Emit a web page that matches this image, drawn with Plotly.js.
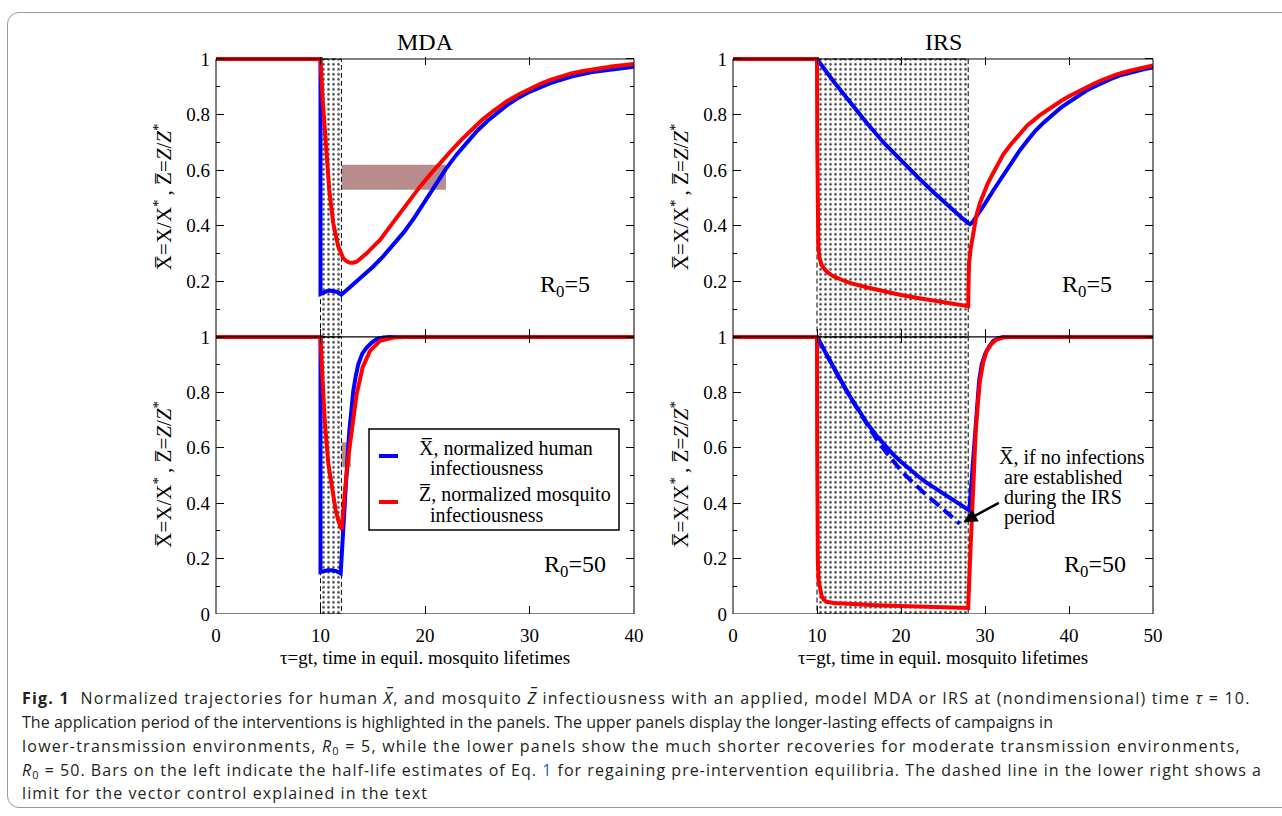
<!DOCTYPE html>
<html><head><meta charset="utf-8">
<script src="https://cdn.plot.ly/plotly-3.0.1.min.js"></script>
<style>
body{margin:0;background:#fff;}
#wrap{position:relative;width:1282px;height:816px;overflow:hidden;background:#fff;}
#chart{position:absolute;left:0;top:0;width:1282px;height:816px;}
#frame{position:absolute;left:7px;top:12px;width:1320px;height:796px;border:1px solid #9a9a9a;border-radius:12px;pointer-events:none;box-sizing:border-box;}
.cap{position:absolute;left:22px;white-space:nowrap;font-family:'Open Sans','Noto Sans',sans-serif;font-size:16px;line-height:24px;color:#231f20;}
.cap sub{font-size:11px;vertical-align:-3px;line-height:0;}
</style></head>
<body>
<div id="wrap">
<div id="chart"></div>
<div id="frame"></div>
<div class="cap" style="top:686px"><b>Fig. 1</b>&nbsp; Normalized trajectories for human <i>X&#773;</i>, and mosquito <i>Z&#773;</i> infectiousness with an applied, model MDA or IRS at (nondimensional) time <i>τ</i> = 10.</div>
<div class="cap" style="top:710px">The application period of the interventions is highlighted in the panels. The upper panels display the longer-lasting effects of campaigns in</div>
<div class="cap" style="top:734px">lower-transmission environments, <i>R</i><sub>0</sub> = 5, while the lower panels show the much shorter recoveries for moderate transmission environments,</div>
<div class="cap" style="top:758px"><i>R</i><sub>0</sub> = 50. Bars on the left indicate the half-life estimates of Eq. <span style="color:#1f5fbf">1</span> for regaining pre-intervention equilibria. The dashed line in the lower right shows a</div>
<div class="cap" style="top:781px">limit for the vector control explained in the text</div>
</div>
<script>
// ---------------- DATA ----------------
const panelTitles = ['MDA', 'IRS'];
const mdaPeriod = [10, 12];
const irsPeriod = [10, 28];
const barMdaR5 = [12, 22, 0.53, 0.62];    // half-life bar: t0, t1, y0, y1
const barMdaR50 = [12, 12.9, 0.53, 0.62];

// MDA, R0 = 5
const mdaR5_t_X = [0, 10, 10, 10.3, 10.6, 10.9, 11.2, 11.5, 11.8, 12, 13, 14, 15, 16, 17, 18, 19, 20, 21, 22, 23, 24, 25, 26, 27, 28, 29, 30, 32, 34, 36, 38, 40];
const mdaR5_X   = [1, 1, 0.155, 0.161, 0.165, 0.167, 0.166, 0.163, 0.158, 0.152, 0.185, 0.218, 0.252, 0.29, 0.332, 0.378, 0.43, 0.49, 0.55, 0.605, 0.655, 0.7, 0.742, 0.778, 0.81, 0.838, 0.862, 0.882, 0.913, 0.937, 0.953, 0.964, 0.972];
const mdaR5_t_Z = [0, 10, 10.21, 10.53, 10.84, 11.22, 11.7, 12.18, 12.5, 12.82, 13.1, 13.46, 13.9, 14.42, 15, 15.7, 16.65, 17.5, 18.5, 19.5, 20.5, 21.5, 22.5, 23.5, 24.6, 25.5, 26.5, 27.8, 29, 30, 31, 32, 33, 34, 35, 36, 38, 40];
const mdaR5_Z   = [1, 1, 0.853, 0.673, 0.529, 0.409, 0.325, 0.283, 0.272, 0.267, 0.267, 0.271, 0.284, 0.301, 0.323, 0.349, 0.397, 0.44, 0.49, 0.54, 0.585, 0.63, 0.67, 0.71, 0.752, 0.782, 0.812, 0.847, 0.873, 0.893, 0.91, 0.925, 0.937, 0.948, 0.956, 0.963, 0.974, 0.982];

// MDA, R0 = 50
const mdaR50_t_X = [0, 10, 10, 10.3, 10.7, 11.1, 11.5, 11.93, 12.05, 12.12, 12.28, 12.44, 12.6, 12.76, 12.95, 13.14, 13.38, 13.62, 14, 14.42, 14.9, 15.38, 16, 16.6, 40];
const mdaR50_X   = [1, 1, 0.152, 0.156, 0.158, 0.158, 0.155, 0.146, 0.23, 0.302, 0.4, 0.482, 0.575, 0.662, 0.74, 0.806, 0.86, 0.902, 0.94, 0.962, 0.98, 0.992, 0.998, 1, 1];
const mdaR50_t_Z = [0, 10, 10.2, 10.43, 10.75, 11.22, 11.45, 11.7, 11.9, 12.03, 12.34, 12.66, 13.08, 13.46, 14.03, 14.74, 15.7, 16.97, 18, 40];
const mdaR50_Z   = [1, 1, 0.842, 0.686, 0.542, 0.422, 0.375, 0.338, 0.315, 0.305, 0.446, 0.566, 0.686, 0.794, 0.89, 0.95, 0.986, 0.998, 1, 1];

// IRS, R0 = 5
const irsR5_t_X = [0, 10, 12, 14, 16, 18, 20, 22, 24, 26, 27, 27.5, 28, 28.2, 28.5, 29, 29.5, 30, 31, 32, 33, 34, 35, 36, 37, 38, 39, 40, 41, 42, 43, 44, 45, 46, 47, 48, 49, 50];
const irsR5_X   = [1, 1, 0.918, 0.84, 0.767, 0.697, 0.635, 0.575, 0.517, 0.46, 0.434, 0.422, 0.41, 0.406, 0.412, 0.433, 0.455, 0.48, 0.528, 0.575, 0.62, 0.665, 0.705, 0.742, 0.772, 0.8, 0.824, 0.845, 0.866, 0.885, 0.9, 0.915, 0.928, 0.94, 0.949, 0.957, 0.964, 0.97];
const irsR5_t_Z = [0, 10, 10.03, 10.06, 10.1, 10.16, 10.3, 10.5, 10.75, 11.1, 11.55, 12, 13, 14, 16, 18, 20, 22, 24, 26, 28, 28.05, 28.1, 28.3, 28.5, 28.75, 29, 29.4, 29.8, 30.3, 30.8, 31.5, 32.2, 33, 33.8, 35, 36.5, 37.7, 39, 40, 41.7, 43, 44, 45.7, 47, 48, 49, 50];
const irsR5_Z   = [1, 1, 0.7, 0.47, 0.38, 0.325, 0.285, 0.263, 0.25, 0.237, 0.226, 0.218, 0.205, 0.194, 0.178, 0.164, 0.151, 0.14, 0.13, 0.12, 0.111, 0.2, 0.265, 0.32, 0.361, 0.405, 0.44, 0.482, 0.517, 0.55, 0.58, 0.622, 0.658, 0.69, 0.72, 0.76, 0.797, 0.823, 0.848, 0.866, 0.893, 0.912, 0.925, 0.945, 0.956, 0.963, 0.971, 0.977];

// IRS, R0 = 50
const irsR50_t_X = [0, 10, 11, 12, 13, 14, 15, 16, 17, 18, 19, 20, 21, 22, 23, 24, 25, 26, 27, 28, 28.13, 28.25, 28.4, 28.6, 28.8, 29.05, 29.3, 29.6, 30, 30.5, 31, 31.6, 32.2, 50];
const irsR50_X   = [1, 1, 0.945, 0.888, 0.835, 0.782, 0.732, 0.687, 0.647, 0.61, 0.578, 0.55, 0.523, 0.498, 0.475, 0.455, 0.435, 0.416, 0.397, 0.378, 0.374, 0.42, 0.482, 0.575, 0.662, 0.76, 0.842, 0.9, 0.938, 0.966, 0.986, 0.996, 1, 1];
const irsR50_t_Xlim = [10, 11, 12, 13, 14, 15, 16, 17, 18, 19, 20, 21, 22, 23, 24, 25, 26, 27];
const irsR50_Xlim   = [1, 0.942, 0.886, 0.832, 0.78, 0.73, 0.68, 0.635, 0.593, 0.553, 0.518, 0.487, 0.457, 0.43, 0.405, 0.38, 0.353, 0.326];
const irsR50_t_Z = [0, 10, 10.02, 10.05, 10.1, 10.2, 10.36, 10.55, 10.8, 11.15, 12, 14, 17, 20, 24, 28, 28.2, 28.5, 28.7, 28.9, 29.15, 29.4, 29.8, 30.2, 30.8, 31.4, 32.2, 33, 50];
const irsR50_Z   = [1, 1, 0.6, 0.3, 0.19, 0.12, 0.086, 0.065, 0.052, 0.044, 0.04, 0.036, 0.032, 0.029, 0.025, 0.022, 0.182, 0.422, 0.55, 0.662, 0.76, 0.842, 0.91, 0.95, 0.976, 0.992, 0.998, 1, 1];

const r0Labels = ['R<sub>0</sub>=5', 'R<sub>0</sub>=5', 'R<sub>0</sub>=50', 'R<sub>0</sub>=50'];
const seriesNames = ['X\u0305, normalized human infectiousness', 'Z\u0305, normalized mosquito infectiousness'];
const legendLines = ['X\u0305, normalized human', '\u00a0infectiousness', 'Z\u0305, normalized mosquito', '\u00a0infectiousness'];
const noteLines = ['X\u0305, if no infections', 'are established', 'during the IRS', 'period'];
const xTitle = 'τ=gt, time in equil. mosquito lifetimes';
const yTitle = 'X\u0305=X/X<sup>*</sup>\u2009, Z\u0305=<i>Z</i>/<i>Z</i><sup>*</sup>';

// ---------------- STYLE / LAYOUT ----------------
const FONT = 'Liberation Serif, Times New Roman, serif';
const BLUE = '#0000ff', RED = '#ff0000';
const LW = 4;
const E = 0.008;     // small headroom so lines lying on y=1 are not clipped

// plot area in page pixels: x 150..1153, y 50..614
const ML = 150, MR = 129, MT = 50, MB = 202;
const PW = 1282 - ML - MR, PH = 816 - MT - MB;
const px = v => (v - ML) / PW;
const py = v => (816 - MB - v) / PH;

function hatch(period, xa, ya) {
  return {x: [period[0], period[1], period[1], period[0], period[0]], y: [0, 0, 1, 1, 0],
    xaxis: xa, yaxis: ya, mode: 'lines', fill: 'toself', fillcolor: 'white',
    fillpattern: {shape: '.', fgcolor: '#3a3a3a', bgcolor: 'white', size: 5, solidity: 0.2},
    line: {color: 'black', width: 1, dash: '5px,3px'}, hoverinfo: 'skip', showlegend: false};
}
function curve(t, v, color, xa, ya, opts) {
  return Object.assign({x: t, y: v, xaxis: xa, yaxis: ya, mode: 'lines',
    line: {color: color, width: LW}, showlegend: false}, opts || {});
}

const traces = [
  hatch(mdaPeriod, 'x', 'y'), hatch(irsPeriod, 'x2', 'y2'),
  hatch(mdaPeriod, 'x3', 'y3'), hatch(irsPeriod, 'x4', 'y4'),
  curve(mdaR5_t_X, mdaR5_X, BLUE, 'x', 'y', {name: seriesNames[0]}),
  curve(mdaR5_t_Z, mdaR5_Z, RED, 'x', 'y', {name: seriesNames[1]}),
  curve(irsR5_t_X, irsR5_X, BLUE, 'x2', 'y2', {name: seriesNames[0]}),
  curve(irsR5_t_Z, irsR5_Z, RED, 'x2', 'y2', {name: seriesNames[1]}),
  curve(mdaR50_t_X, mdaR50_X, BLUE, 'x3', 'y3', {name: seriesNames[0]}),
  curve(mdaR50_t_Z, mdaR50_Z, RED, 'x3', 'y3', {name: seriesNames[1]}),
  curve(irsR50_t_X, irsR50_X, BLUE, 'x4', 'y4', {name: seriesNames[0]}),
  curve(irsR50_t_Xlim, irsR50_Xlim, BLUE, 'x4', 'y4', {name: 'X\u0305, no infections established', line: {color: BLUE, width: LW, dash: '12px,6px'}}),
  curve(irsR50_t_Z, irsR50_Z, RED, 'x4', 'y4', {name: seriesNames[1]})
];

function xAxis(pxl, range, anchor, labels) {
  return {domain: [px(pxl[0]), px(pxl[1])], range: range, anchor: anchor, dtick: 10, tick0: 0,
    showgrid: false, zeroline: false, showline: false,
    mirror: 'allticks', ticks: 'inside', ticklen: 8, tickwidth: 1, tickcolor: 'black',
    showticklabels: labels, ticklabelstandoff: 8,
    tickfont: {family: FONT, size: 19, color: 'black'},
    title: labels ? {text: xTitle, font: {family: FONT, size: 19, color: 'black'}, standoff: 5} : {text: ''},
    fixedrange: true, automargin: true};
}
// y pixel of value 0 and value 1 for each panel row
function yAxis(p0, p1, anchor, vals) {
  const top = p1 - (p0 - p1) * E;
  return {domain: [py(p0), py(top)], range: [0, 1 + E], anchor: anchor, tickmode: 'array', tickvals: vals,
    showgrid: false, zeroline: false, showline: false,
    mirror: 'allticks', ticks: 'inside', ticklen: 8, tickwidth: 1, tickcolor: 'black',
    minor: {tickmode: 'array', tickvals: [0.1, 0.3, 0.5, 0.7, 0.9], ticks: 'inside', ticklen: 4, tickcolor: 'black', tickwidth: 1, showgrid: false},
    ticklabelstandoff: 5,
    tickfont: {family: FONT, size: 19, color: 'black'},
    title: {text: yTitle, font: {family: FONT, size: 21, color: 'black'}, standoff: 8},
    fixedrange: true, automargin: true};
}

const topVals = [0.2, 0.4, 0.6, 0.8, 1];
const botVals = [0, 0.2, 0.4, 0.6, 0.8, 1];

const annotations = [];
[['x', 'y'], ['x2', 'y2']].forEach((r, i) => annotations.push({
  text: panelTitles[i], xref: r[0] + ' domain', yref: r[1], x: 0.5, y: 1,
  xanchor: 'center', yanchor: 'bottom', yshift: 2, showarrow: false,
  font: {family: FONT, size: 24, color: 'black'}}));
const r0Pos = [[33.4, 0.185, 'x', 'y'], [42.2, 0.185, 'x2', 'y2'], [34.35, 0.175, 'x3', 'y3'], [43.1, 0.175, 'x4', 'y4']];
r0Pos.forEach((p, i) => annotations.push({text: r0Labels[i], x: p[0], y: p[1], xref: p[2], yref: p[3],
  xanchor: 'center', yanchor: 'middle', showarrow: false, font: {family: FONT, size: 24, color: 'black'}}));
const notePos = [[31.4, 0.566], [32.0, 0.494], [32.0, 0.422], [32.0, 0.35]];
noteLines.forEach((s, i) => annotations.push({text: s, x: notePos[i][0], y: notePos[i][1], xref: 'x4', yref: 'y4',
  xanchor: 'left', yanchor: 'middle', showarrow: false, font: {family: FONT, size: 20, color: 'black'}}));
annotations.push({text: '', x: 27.42, y: 0.332, xref: 'x4', yref: 'y4', showarrow: true,
  ax: 37, ay: -20, arrowhead: 2, arrowsize: 1.1, arrowwidth: 2.5, arrowcolor: 'black'});
// legend text (inside lower MDA panel)
const legTextPos = [[416.7, 448.3], [422.7, 468.3], [416.7, 494], [422.7, 515]];
legendLines.forEach((s, i) => annotations.push({text: s, xref: 'paper', yref: 'paper',
  x: px(legTextPos[i][0]), y: py(legTextPos[i][1]), xanchor: 'left', yanchor: 'middle', showarrow: false,
  font: {family: FONT, size: 20, color: 'black'}}));

const shapes = [
  {type: 'rect', xref: 'x', yref: 'y', x0: barMdaR5[0], x1: barMdaR5[1], y0: barMdaR5[2], y1: barMdaR5[3],
    fillcolor: '#b78c8a', line: {width: 0}, layer: 'below'},
  {type: 'rect', xref: 'x3', yref: 'y3', x0: barMdaR50[0], x1: barMdaR50[1], y0: barMdaR50[2], y1: barMdaR50[3],
    fillcolor: '#b78c8a', line: {width: 0}, layer: 'below'}
];
// panel frames at y = 0 and y = 1
[['x', 'y'], ['x2', 'y2'], ['x3', 'y3'], ['x4', 'y4']].forEach(r => shapes.push({type: 'rect',
  xref: r[0] + ' domain', yref: r[1], x0: 0, x1: 1, y0: 0, y1: 1,
  fillcolor: 'rgba(0,0,0,0)', line: {color: 'black', width: 1}, layer: 'above'}));
// legend box and samples
shapes.push({type: 'rect', xref: 'paper', yref: 'paper', x0: px(369), x1: px(619), y0: py(530), y1: py(429),
  fillcolor: 'white', line: {color: 'black', width: 1.5}, layer: 'above'});
shapes.push({type: 'line', xref: 'paper', yref: 'paper', x0: px(379), x1: px(398), y0: py(456), y1: py(456),
  line: {color: BLUE, width: LW}, layer: 'above'});
shapes.push({type: 'line', xref: 'paper', yref: 'paper', x0: px(379), x1: px(398), y0: py(502), y1: py(502),
  line: {color: RED, width: LW}, layer: 'above'});

const layout = {
  width: 1282, height: 816, margin: {l: ML, r: MR, t: MT, b: MB, autoexpand: false},
  paper_bgcolor: 'rgba(0,0,0,0)', plot_bgcolor: 'rgba(0,0,0,0)',
  font: {family: FONT, color: 'black'},
  xaxis: xAxis([216, 634], [0, 40], 'y', false),
  xaxis2: xAxis([733, 1153], [0, 50], 'y2', false),
  xaxis3: xAxis([216, 634], [0, 40], 'y3', true),
  xaxis4: xAxis([733, 1153], [0, 50], 'y4', true),
  yaxis: yAxis(337, 59, 'x', topVals),
  yaxis2: yAxis(337, 59, 'x2', topVals),
  yaxis3: yAxis(614, 337, 'x3', botVals),
  yaxis4: yAxis(614, 337, 'x4', botVals),
  showlegend: false,
  annotations: annotations, shapes: shapes
};

Plotly.newPlot('chart', traces, layout, {staticPlot: true, displayModeBar: false});

// fit each caption line to its width in the reference
const capWidths = [1231, 1031, 1219, 1240, 406];
function fitCaption() {
  document.querySelectorAll('.cap').forEach((e, i) => {
    e.style.letterSpacing = '0px';
    const w = e.getBoundingClientRect().width;
    const n = e.textContent.length;
    e.style.letterSpacing = ((capWidths[i] - w) / n).toFixed(3) + 'px';
  });
}
fitCaption();
if (document.fonts && document.fonts.ready) document.fonts.ready.then(fitCaption);
</script>
</body></html>
